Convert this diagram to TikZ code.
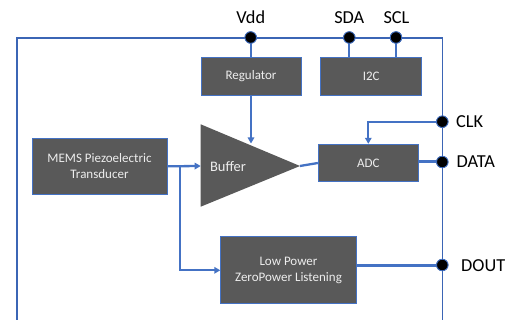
\documentclass[tikz,border=0pt]{standalone}
\usepackage{fontspec}
\setmainfont{Carlito}
\usetikzlibrary{arrows.meta}
\definecolor{wire}{HTML}{4472C4}
\definecolor{blockfill}{HTML}{595959}
\definecolor{frame}{HTML}{3B65B5}
\definecolor{blocktext}{HTML}{EDEDED}
\begin{document}
\begin{tikzpicture}[x=1pt,y=-1pt,
  block/.style={draw=wire, line width=0.9pt, fill=blockfill, text=blocktext,
    font=\fontsize{13}{16}\selectfont, align=center, inner sep=0pt},
  wireline/.style={draw=wire, line width=2.3pt},
  heavywire/.style={draw=wire, line width=3pt},
  arr/.style={wireline, -{Triangle[length=6pt,width=6.5pt]}},
  pin/.style={circle, fill=black, draw=wire, line width=0.8pt,
    minimum size=11.5pt, inner sep=0pt},
  pinlabel/.style={font=\fontsize{18.3}{21}\selectfont, inner sep=0pt},
  framestyle/.style={draw=frame, line width=1.15pt}]
\useasboundingbox (0,0) rectangle (516,320);

% package outline, open at the bottom
\coordinate (fbl) at (17,321);
\coordinate (ftl) at (17,38);
\coordinate (ftr) at (442.3,38);
\coordinate (fbr) at (442.3,321);
\draw[framestyle] (fbl) -- (ftl) -- (ftr) -- (fbr);

% functional blocks
\node[block, minimum width=100pt, minimum height=38pt] (reg) at (251,76) {Regulator};
\node[block, minimum width=101pt, minimum height=38pt] (i2c) at (371.2,76) {I2C};
\node[block, minimum width=135pt, minimum height=56pt] (mems) at (99.5,166.3)
  {MEMS Piezoelectric\\Transducer};
\node[block, minimum width=100pt, minimum height=37.5pt] (adc) at (368.3,163) {ADC};
\node[block, minimum width=135.5pt, minimum height=67pt] (low) at (288.5,270.3)
  {Low Power\\ZeroPower Listening};

% buffer amplifier
\coordinate (bufTL) at (200.7,124.3);
\coordinate (bufBL) at (200.7,206.7);
\coordinate (bufTip) at (300,166);
\coordinate (bufIn) at (200.7,166);
\coordinate (bufTop) at (251,143.5);
\fill[blockfill] (bufTL) -- (bufTip) -- (bufBL) -- cycle;
\node[text=blocktext, font=\fontsize{14.5}{17}\selectfont] (buflabel) at (228,166.5) {Buffer};

% pins
\node[pin] (vdd) at (250.7,37.5) {};
\node[pin] (sda) at (349.3,37.5) {};
\node[pin] (scl) at (396,37.5) {};
\node[pin] (clk) at (442.3,121.7) {};
\node[pin] (data) at (442.3,162) {};
\node[pin] (dout) at (442.3,265) {};

% signal wiring
\coordinate (split) at (180.3,166);
\draw[wireline] (vdd.center) -- (vdd.center |- reg.north);
\draw[wireline] (sda.center) -- (sda.center |- i2c.north);
\draw[wireline] (scl.center) -- (scl.center |- i2c.north);
\draw[arr] (reg.south) -- (bufTop);
\draw[arr] (mems.east) -- (bufIn);
\draw[arr] (split) -- (split |- low.west) -- (low.west);
\draw[wireline] (bufTip) -- (adc.west);
\draw[arr] (clk.center) -| (adc.north);
\draw[heavywire] (adc.east |- data.center) -- (data.center);
\draw[heavywire] (low.east |- dout.center) -- (dout.center);

% redraw pins on top of the wires
\foreach \p in {vdd,sda,scl,clk,data,dout}
  \node[pin] at (\p) {};

% pin names
\node[pinlabel] (vddlabel) at (250.7,17.5) {Vdd};
\node[pinlabel] (sdalabel) at (349.3,17.5) {SDA};
\node[pinlabel] (scllabel) at (396.5,17.5) {SCL};
\node[pinlabel, anchor=west] (clklabel) at (456,122) {CLK};
\node[pinlabel, anchor=west] (datalabel) at (456.5,162) {DATA};
\node[pinlabel, anchor=west] (doutlabel) at (461,265.5) {DOUT};
\end{tikzpicture}
\end{document}
